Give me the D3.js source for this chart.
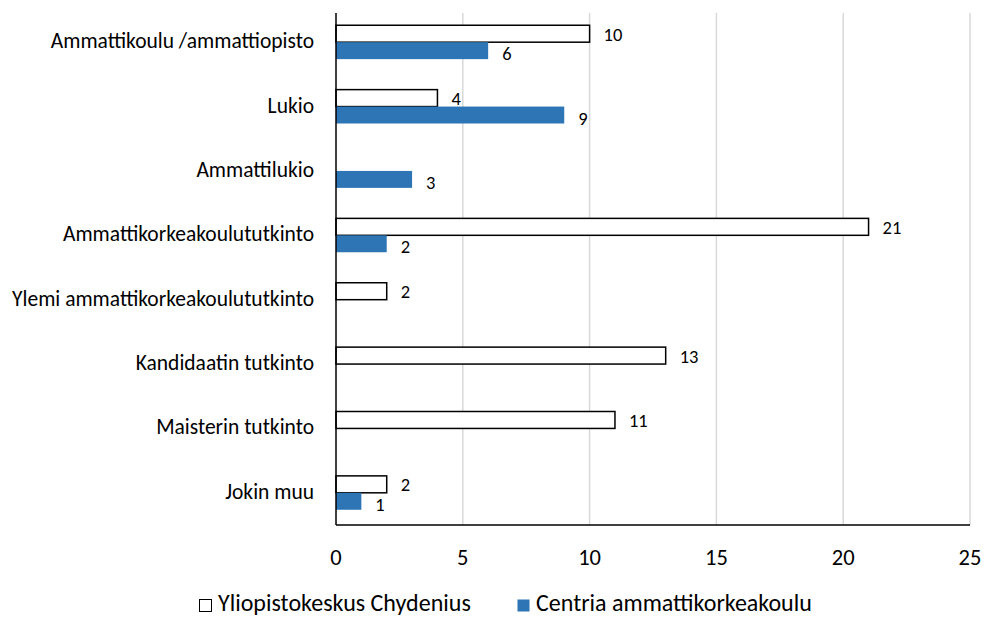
<!DOCTYPE html>
<html lang="fi">
<head>
<meta charset="UTF-8">
<title>Koulutustausta</title>
<script src="https://d3js.org/d3.v7.min.js"></script>
<style>
    body, html { margin: 0; padding: 0; background: #fff; }
    svg text { font-family: Carlito, Lato, "Open Sans", sans-serif; fill: #000; }
</style>
</head>
<body>
<div id="chart"></div>
<script>
    const categories = [
        "Ammattikoulu /ammattiopisto",
        "Lukio",
        "Ammattilukio",
        "Ammattikorkeakoulututkinto",
        "Ylemi ammattikorkeakoulututkinto",
        "Kandidaatin tutkinto",
        "Maisterin tutkinto",
        "Jokin muu"
    ];
    const seriesNames = ["Yliopistokeskus Chydenius", "Centria ammattikorkeakoulu"];
    const chydenius = [10, 4, null, 21, 2, 13, 11, 2];
    const centria = [6, 9, 3, 2, null, null, null, 1];
    const xTicks = [0, 5, 10, 15, 20, 25];

    const width = 986, height = 618;
    const margin = { left: 336, right: 16, top: 10, bottom: 93 };
    const plotBottom = height - margin.bottom;

    const svg = d3.select("#chart").append("svg")
        .attr("width", width)
        .attr("height", height);

    const x = d3.scaleLinear()
        .domain([0, 25])
        .range([margin.left, width - margin.right]);

    const y = d3.scaleBand()
        .domain(categories)
        .range([margin.top, plotBottom]);

    const inner = d3.scaleBand()
        .domain([0, 1])
        .range([0, y.bandwidth()])
        .paddingOuter(0.9)
        .paddingInner(0);

    // pystysuorat apuviivat
    svg.append("g")
        .selectAll("line")
        .data(xTicks.slice(1))
        .join("line")
        .attr("x1", d => x(d)).attr("x2", d => x(d))
        .attr("y1", 13).attr("y2", plotBottom)
        .attr("stroke", "#d9d9d9")
        .attr("stroke-width", 1.5);

    const series = [
        { values: chydenius, fill: "#ffffff", stroke: "#000", labelShift: 7 },
        { values: centria, fill: "#2e75b6", stroke: "none", labelShift: 9.5 }
    ];

    series.forEach((s, si) => {
        const g = svg.append("g");
        const rows = categories.map((c, i) => ({ c, v: s.values[i] })).filter(d => d.v != null);
        g.selectAll("rect")
            .data(rows)
            .join("rect")
            .attr("x", x(0))
            .attr("y", d => y(d.c) + inner(si))
            .attr("width", d => x(d.v) - x(0))
            .attr("height", inner.bandwidth())
            .attr("fill", s.fill)
            .attr("stroke", s.stroke)
            .attr("stroke-width", 1.5);
        g.selectAll("text")
            .data(rows)
            .join("text")
            .attr("x", d => x(d.v) + 14)
            .attr("y", d => y(d.c) + inner(si) + inner.bandwidth() / 2 + s.labelShift)
            .attr("font-size", 18.5)
            .text(d => d.v);
    });

    // luokkien nimet
    svg.append("g")
        .selectAll("text")
        .data(categories)
        .join("text")
        .attr("x", 314)
        .attr("y", d => y(d) + y.bandwidth() / 2 + 6)
        .attr("text-anchor", "end")
        .attr("font-size", 21.5)
        .text(d => d);

    // akselit
    svg.append("line")
        .attr("x1", x(0)).attr("x2", x(0))
        .attr("y1", 13).attr("y2", plotBottom)
        .attr("stroke", "#000").attr("stroke-width", 1.5);
    svg.append("line")
        .attr("x1", x(0)).attr("x2", x(25))
        .attr("y1", plotBottom).attr("y2", plotBottom)
        .attr("stroke", "#000").attr("stroke-width", 1.5);

    svg.append("g")
        .selectAll("text")
        .data(xTicks)
        .join("text")
        .attr("x", d => x(d))
        .attr("y", 565)
        .attr("text-anchor", "middle")
        .attr("font-size", 22.5)
        .text(d => d);

    // selite
    const legend = svg.append("g");
    const legendX = [199, 517];
    seriesNames.forEach((name, i) => {
        legend.append("rect")
            .attr("x", legendX[i] + 0.5).attr("y", 599.5)
            .attr("width", 12).attr("height", 12)
            .attr("fill", series[i].fill)
            .attr("stroke", series[i].stroke)
            .attr("stroke-width", 1);
        legend.append("text")
            .attr("x", legendX[i] + 19)
            .attr("y", 611)
            .attr("font-size", 24)
            .text(name);
    });
</script>
</body>
</html>
